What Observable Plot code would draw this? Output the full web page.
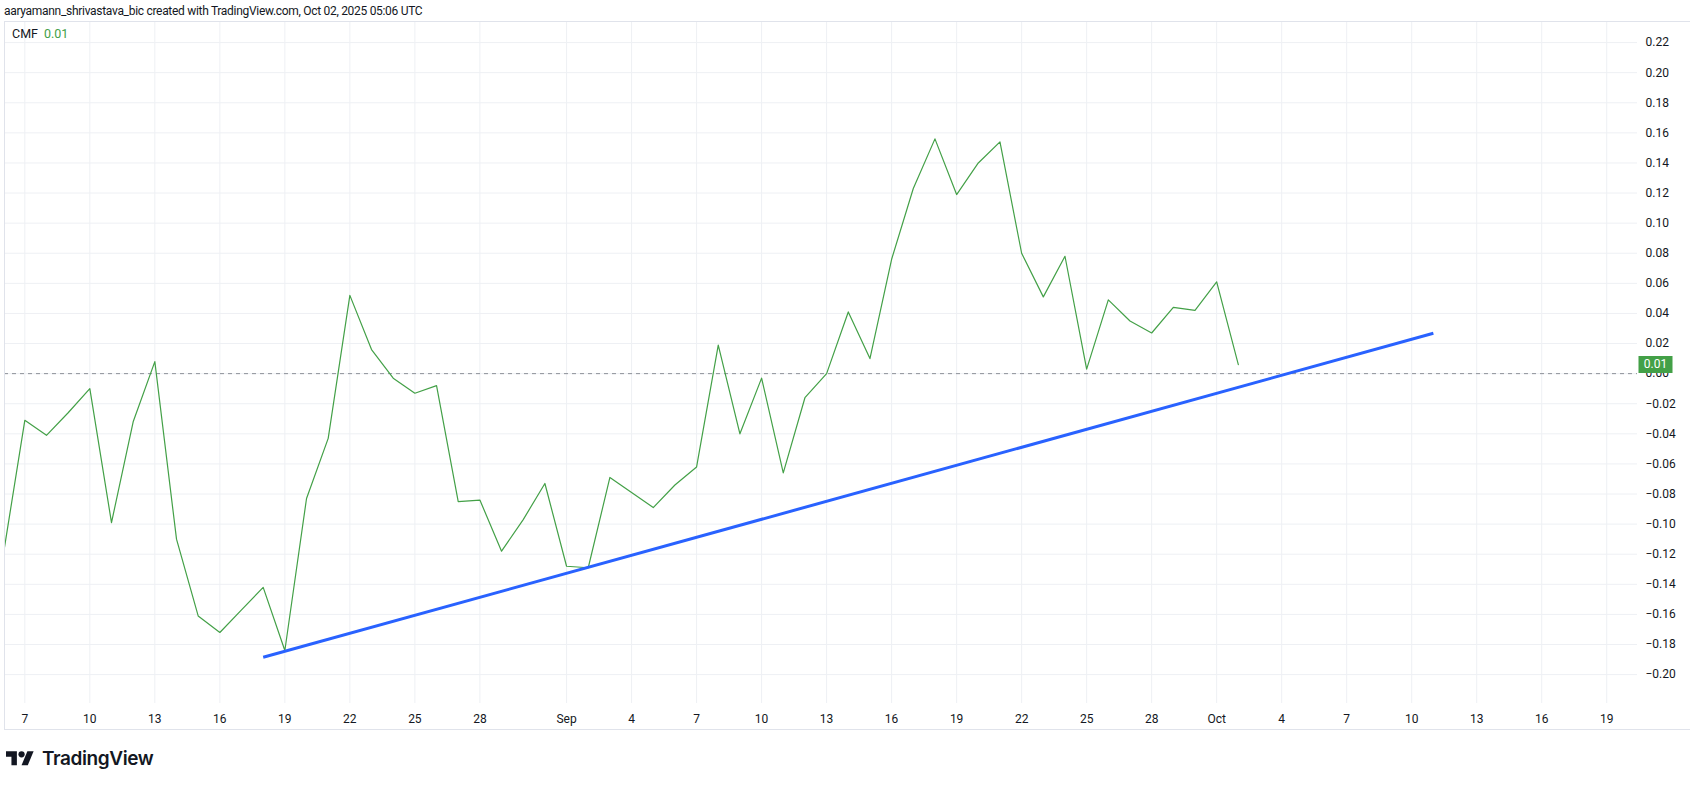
<!DOCTYPE html>
<html>
<head>
<meta charset="utf-8">
<script src="https://cdn.jsdelivr.net/npm/d3@7"></script>
<script src="https://cdn.jsdelivr.net/npm/@observablehq/plot@0.6"></script>
<style>
  html, body { margin: 0; padding: 0; background: #fff; overflow: hidden; }
  #page { position: relative; width: 1692px; height: 786px; font-family: Roboto, "Liberation Sans", sans-serif; color: #131722; }
  #hdr { position: absolute; left: 4px; top: 3px; font-size: 12px; letter-spacing: -0.3px; line-height: 16px; white-space: nowrap; color: #131722; }
  #chart { position: absolute; left: 0; top: 21px; }
  #frame { position: absolute; left: 4px; top: 21px; width: 1686px; height: 709px; border: 1px solid #e0e3eb; border-right: none; box-sizing: border-box; pointer-events: none; }
  #legend { position: absolute; left: 12px; top: 26px; font-size: 12.5px; line-height: 16px; white-space: nowrap; }
  #legend .v { color: #43a047; margin-left: 6px; }
  #footer { position: absolute; left: 6px; top: 747px; display: flex; align-items: center; gap: 8px; }
  #footer span { font-family: Inter, Roboto, sans-serif; font-weight: 600; font-size: 19px; letter-spacing: -0.4px; color: #131722; }
</style>
</head>
<body>
<div id="page">
  <div id="hdr">aaryamann_shrivastava_bic created with TradingView.com, Oct 02, 2025 05:06 UTC</div>
  <div id="chart"></div>
  <div id="frame"></div>
  <div id="legend"><span>CMF</span><span class="v" id="legval"></span></div>
  <div id="footer">
    <svg width="28" height="22" viewBox="0 0 36 28"><path fill="#131722" d="M14 22H7V11H0V4h14v18z"/><circle fill="#131722" cx="20" cy="8" r="4"/><path fill="#131722" d="M28 22h-8l7.5-18h8L28 22z"/></svg>
    <span>TradingView</span>
  </div>
</div>
<script>
// ---- data ----
const cmfDates = [
  "2025-08-06","2025-08-07","2025-08-08","2025-08-09","2025-08-10","2025-08-11","2025-08-12","2025-08-13",
  "2025-08-14","2025-08-15","2025-08-16","2025-08-17","2025-08-18","2025-08-19","2025-08-20","2025-08-21",
  "2025-08-22","2025-08-23","2025-08-24","2025-08-25","2025-08-26","2025-08-27","2025-08-28","2025-08-29",
  "2025-08-30","2025-08-31","2025-09-01","2025-09-02","2025-09-03","2025-09-04","2025-09-05","2025-09-06",
  "2025-09-07","2025-09-08","2025-09-09","2025-09-10","2025-09-11","2025-09-12","2025-09-13","2025-09-14",
  "2025-09-15","2025-09-16","2025-09-17","2025-09-18","2025-09-19","2025-09-20","2025-09-21","2025-09-22",
  "2025-09-23","2025-09-24","2025-09-25","2025-09-26","2025-09-27","2025-09-28","2025-09-29","2025-09-30",
  "2025-10-01","2025-10-02"
];
const cmfValues = [
  -0.121,-0.031,-0.041,-0.026,-0.010,-0.099,-0.032,0.008,
  -0.110,-0.161,-0.172,-0.157,-0.142,-0.184,-0.083,-0.043,
  0.052,0.016,-0.003,-0.013,-0.008,-0.085,-0.084,-0.118,
  -0.097,-0.073,-0.128,-0.129,-0.069,-0.079,-0.089,-0.074,
  -0.062,0.019,-0.040,-0.003,-0.066,-0.016,0.000,0.041,
  0.010,0.076,0.123,0.156,0.119,0.140,0.154,0.080,
  0.051,0.078,0.003,0.049,0.035,0.027,0.044,0.042,
  0.061,0.006
];
const trendDates = ["2025-08-18","2025-10-11"];
const trendValues = [-0.1885, 0.0268];

const xTickDates = [
  "2025-08-07","2025-08-10","2025-08-13","2025-08-16","2025-08-19","2025-08-22","2025-08-25","2025-08-28",
  "2025-09-01","2025-09-04","2025-09-07","2025-09-10","2025-09-13","2025-09-16","2025-09-19","2025-09-22",
  "2025-09-25","2025-09-28","2025-10-01","2025-10-04","2025-10-07","2025-10-10","2025-10-13","2025-10-16","2025-10-19"
];
const xTickLabels = [
  "7","10","13","16","19","22","25","28",
  "Sep","4","7","10","13","16","19","22",
  "25","28","Oct","4","7","10","13","16","19"
];
const yTicks = [-0.20,-0.18,-0.16,-0.14,-0.12,-0.10,-0.08,-0.06,-0.04,-0.02,0.00,0.02,0.04,0.06,0.08,0.10,0.12,0.14,0.16,0.18,0.20,0.22];

// ---- build ----
const parse = s => new Date(s + "T00:00:00Z");
const cmf = cmfDates.map((d, i) => ({date: parse(d), v: cmfValues[i]}));
const trend = trendDates.map((d, i) => ({date: parse(d), v: trendValues[i]}));
const xTicks = xTickDates.map(parse);
const labelMap = new Map(xTicks.map((d, i) => [+d, xTickLabels[i]]));
const last = cmf[cmf.length - 1];
const fmt = d3.format(".2f");
document.getElementById("legval").textContent = fmt(last.v);

const green = "#43a047", blue = "#2962ff", grid = "#eef0f4";
const badge = { draw(ctx) { ctx.rect(-17, -8.5, 34, 17); } };

const chart = Plot.plot({
  width: 1692,
  height: 709,
  marginLeft: 4,
  marginRight: 55,
  marginTop: 0,
  marginBottom: 27,
  style: { fontFamily: "Roboto, 'Liberation Sans', sans-serif", fontSize: "12px", color: "#131722", background: "transparent" },
  x: { type: "utc", domain: [new Date(Date.UTC(2025, 7, 6, 1, 30)), new Date(Date.UTC(2025, 9, 20, 10, 5))] },
  y: { domain: [-0.2192, 0.234] },
  marks: [
    Plot.ruleX(xTicks, { stroke: grid, strokeWidth: 1 }),
    Plot.ruleY(yTicks, { stroke: grid, strokeWidth: 1 }),
    Plot.ruleY([0], { stroke: "#8d9099", strokeDasharray: "4,4", strokeWidth: 1 }),
    Plot.axisX({ ticks: xTicks, tickFormat: d => labelMap.get(+d), tickSize: 0, tickPadding: 11, fontSize: 12, fill: "#131722", label: null }),
    Plot.axisY({ anchor: "right", ticks: yTicks, tickFormat: fmt, tickSize: 0, tickPadding: 8, fontSize: 12, fill: "#131722", label: null }),
    Plot.line(cmf, { x: "date", y: "v", stroke: green, strokeWidth: 1.2, clip: true }),
    Plot.line(trend, { x: "date", y: "v", stroke: blue, strokeWidth: 3, strokeLinecap: "butt" }),
    Plot.dot([last], { y: "v", frameAnchor: "right", dx: 18, symbol: badge, r: 1, fill: green, stroke: null }),
    Plot.text([last], { y: "v", frameAnchor: "right", dx: 18, text: d => fmt(d.v), textAnchor: "middle", fill: "white", fontSize: 12 })
  ]
});
document.getElementById("chart").appendChild(chart);
</script>
</body>
</html>
